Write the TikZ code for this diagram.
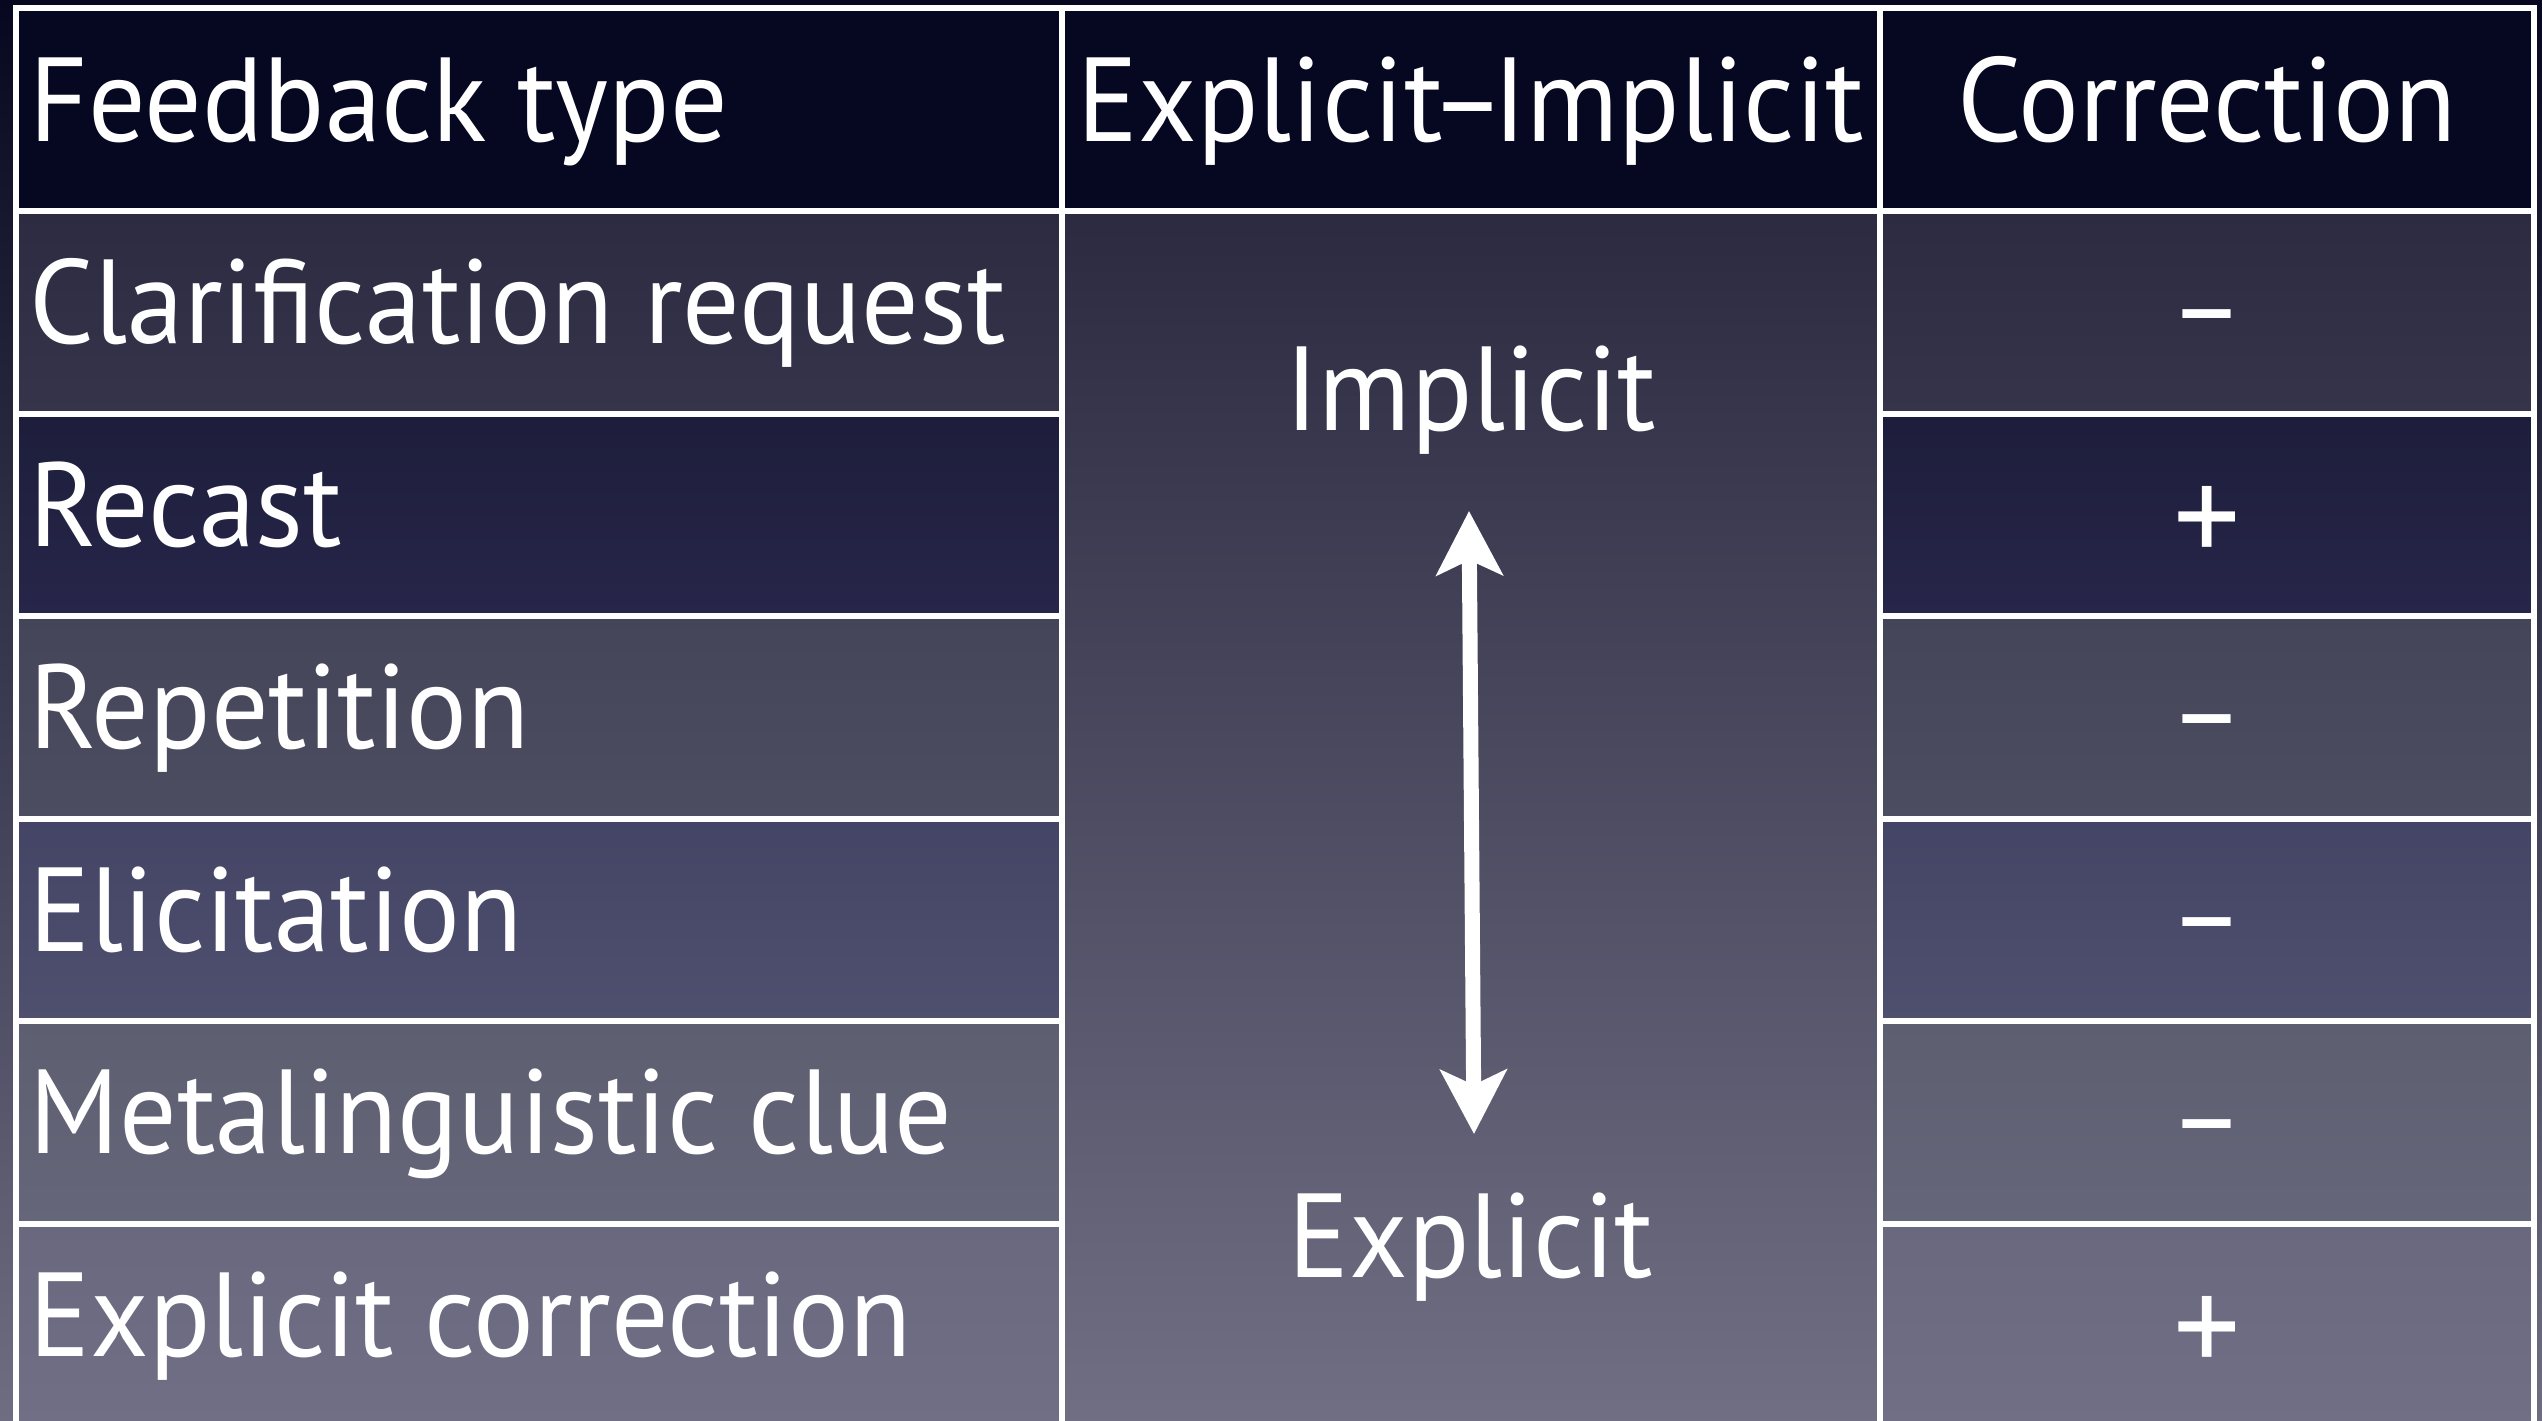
\documentclass[tikz,border=0pt]{standalone}
\usepackage{fontspec}
\setmainfont[FakeStretch=0.95]{PT Sans}
\usetikzlibrary{arrows.meta}

\definecolor{bgtop}{HTML}{07081F}
\definecolor{bgbot}{HTML}{6E6D82}
\definecolor{hdfill}{HTML}{060720}
\definecolor{rowAt}{HTML}{2C2B41}
\definecolor{rowAb}{HTML}{35344A}
\definecolor{rowBt}{HTML}{1D1D3B}
\definecolor{rowBb}{HTML}{27264A}
\definecolor{rowCt}{HTML}{45455A}
\definecolor{rowCb}{HTML}{4D4D61}
\definecolor{rowDt}{HTML}{444566}
\definecolor{rowDb}{HTML}{4F4F6E}
\definecolor{rowEt}{HTML}{5E5E71}
\definecolor{rowEb}{HTML}{66667A}
\definecolor{rowFt}{HTML}{69687F}
\definecolor{rowFb}{HTML}{706F85}
\definecolor{midtop}{HTML}{2B2A40}
\definecolor{midbot}{HTML}{716F84}

\begin{document}
\begin{tikzpicture}[x=0.01cm,y=0.01cm,
		cell/.style={text=white,font=\fontsize{34}{40}\selectfont,inner sep=0pt},
		corrsign/.style={cell,anchor=base},
		corrplus/.style={cell,anchor=center,font=\fontsize{40}{46}\selectfont},
		rule/.style={draw=white,line width=1.5pt}]
	\useasboundingbox (0,0) rectangle (2542,-1421);
	\fill[top color=bgtop,bottom color=bgbot] (0,0) rectangle (2542,-1421);
	% cell backgrounds
	\fill[hdfill] (16,-8) rectangle (2534,-211);
	\fill[top color=rowAt,bottom color=rowAb] (16,-211) rectangle (2534,-414);
	\fill[top color=rowBt,bottom color=rowBb] (16,-414) rectangle (2534,-616);
	\fill[top color=rowCt,bottom color=rowCb] (16,-616) rectangle (2534,-819);
	\fill[top color=rowDt,bottom color=rowDb] (16,-819) rectangle (2534,-1021);
	\fill[top color=rowEt,bottom color=rowEb] (16,-1021) rectangle (2534,-1224);
	\fill[top color=rowFt,bottom color=rowFb] (16,-1224) rectangle (2534,-1427);
	\fill[top color=midtop,bottom color=midbot] (1062,-211) rectangle (1880,-1427);
	% grid
	\draw[rule] (16,-1440) -- (16,-8) -- (2534,-8) -- (2534,-1440);
	\draw[rule] (1062,-8) -- (1062,-1440);
	\draw[rule] (1880,-8) -- (1880,-1440);
	\draw[rule] (16,-211) -- (2534,-211);
	\draw[rule] (16,-414) -- (1062,-414) (1880,-414) -- (2534,-414);
	\draw[rule] (16,-616) -- (1062,-616) (1880,-616) -- (2534,-616);
	\draw[rule] (16,-819) -- (1062,-819) (1880,-819) -- (2534,-819);
	\draw[rule] (16,-1021) -- (1062,-1021) (1880,-1021) -- (2534,-1021);
	\draw[rule] (16,-1224) -- (1062,-1224) (1880,-1224) -- (2534,-1224);
	% header
	\node[cell,anchor=base west] (hdtype) at (29,-141) {Feedback type};
	\node[cell,anchor=base] (hdscale) at (1471,-141) {Explicit\kern-0.1em–\kern-0.1em Implicit};
	\node[cell,anchor=base] (hdcorr) at (2207,-141) {Correction};
	% feedback types
	\node[cell,anchor=base west] (clar) at (29,-343) {Clarification request};
	\node[cell,anchor=base west] (recast) at (29,-546) {Recast};
	\node[cell,anchor=base west] (rep) at (29,-748) {Repetition};
	\node[cell,anchor=base west] (elic) at (29,-951) {Elicitation};
	\node[cell,anchor=base west] (meta) at (29,-1153) {Metalinguistic clue};
	\node[cell,anchor=base west] (expl) at (29,-1356) {Explicit correction};
	% correction signs
	\node[corrsign] (c1) at (2207,-348) {–};
	\node[corrplus] (c2) at (2207,-525) {+};
	\node[corrsign] (c3) at (2207,-753) {–};
	\node[corrsign] (c4) at (2207,-956) {–};
	\node[corrsign] (c5) at (2207,-1158) {–};
	\node[corrplus] (c6) at (2207,-1335) {+};
	% scale
	\node[cell,anchor=base] (imp) at (1471,-430) {Implicit};
	\node[cell,anchor=base] (exp) at (1471,-1277) {Explicit};
	\coordinate (up) at (1469,-511);
	\coordinate (down) at (1474,-1134);
	\draw[white,line width=0.15cm,>={Stealth[length=0.64cm,width=0.66cm,inset=0.15cm]},<->] (up) -- (down);
\end{tikzpicture}
\end{document}
